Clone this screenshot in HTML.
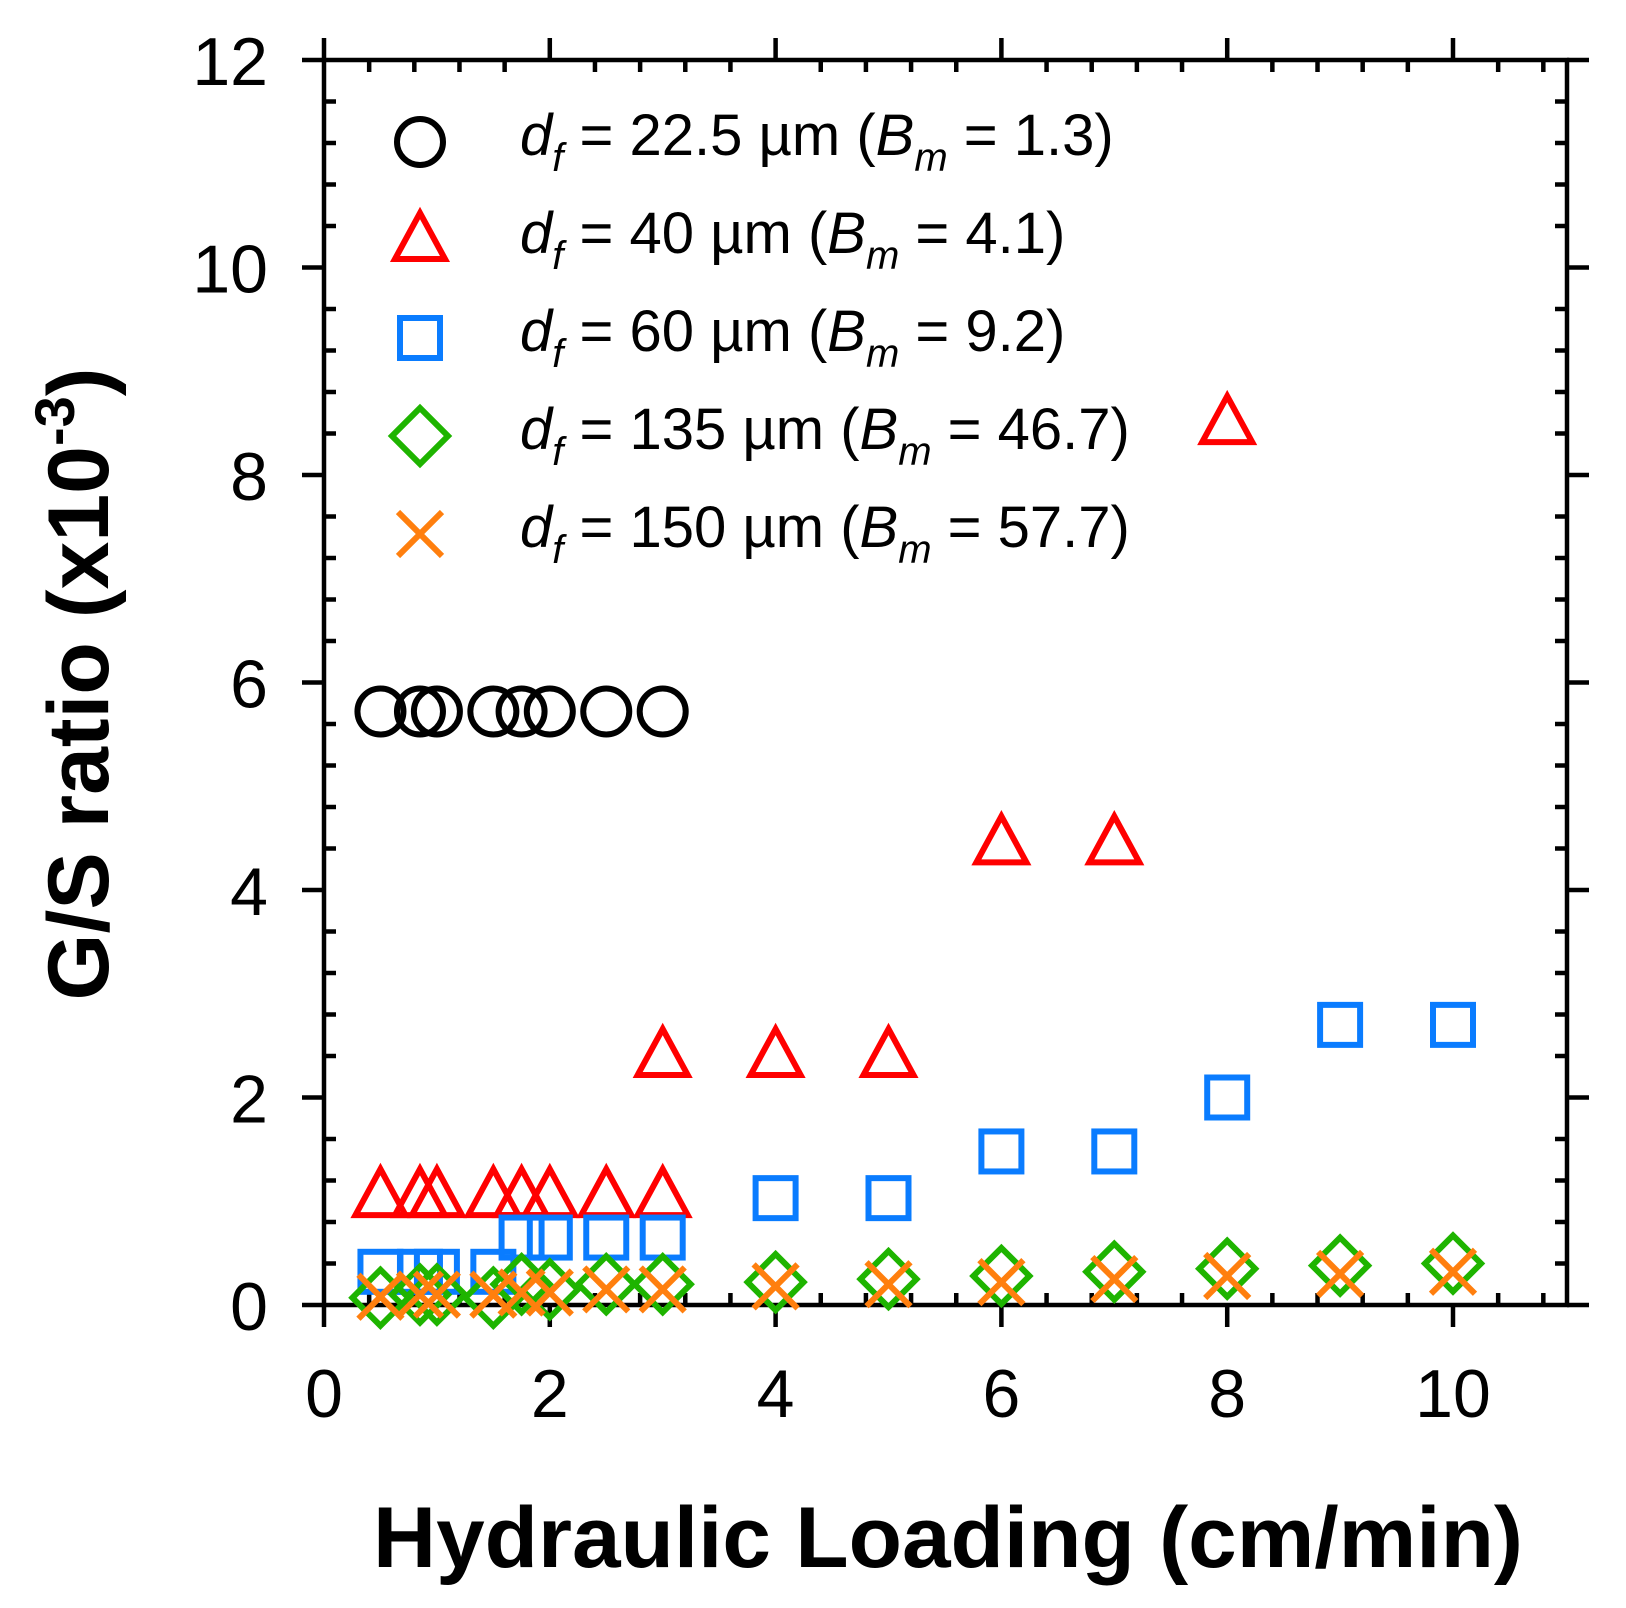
<!DOCTYPE html>
<html><head><meta charset="utf-8"><style>
html,body{margin:0;padding:0;background:#fff;}
svg{display:block;}
text{font-family:"Liberation Sans",Arial,sans-serif;}
</style></head><body>
<svg id="s" width="1626" height="1608" viewBox="0 0 1626 1608" xmlns="http://www.w3.org/2000/svg">
<g id="ax" stroke="#000" stroke-width="4.5" fill="none"></g>
<g id="pts" fill="none" stroke-width="6"></g>
<g id="lab" fill="#000"></g>
<text x="948" y="1567" font-size="86" font-weight="bold" text-anchor="middle" textLength="1150" lengthAdjust="spacingAndGlyphs">Hydraulic Loading (cm/min)</text>
<text transform="translate(108,684) rotate(-90)" font-size="86" font-weight="bold" text-anchor="middle">G/S ratio (x10<tspan font-size="56" dy="-34">-3</tspan><tspan dy="34">)</tspan></text>
</svg>
<script>
const X0=324,XS=112.9,Y0=1305,YS=103.75;
const X=v=>X0+v*XS, Y=v=>Y0-v*YS;
const ax=document.getElementById('ax'),pts=document.getElementById('pts'),lab=document.getElementById('lab');
const NS='http://www.w3.org/2000/svg';
function el(p,t,a,txt){const e=document.createElementNS(NS,t);for(const k in a)e.setAttribute(k,a[k]);if(txt!==undefined)e.textContent=txt;p.appendChild(e);return e;}
const L=X(0),R=1567,T=Y(12),B=Y(0);
el(ax,'rect',{x:L,y:T,width:R-L,height:B-T});
for(let i=0;i<=27;i++){const v=i*0.4;const x=X(v);const maj=(i%5==0);
 if(maj){el(ax,'line',{x1:x,y1:B,x2:x,y2:B+22});el(ax,'line',{x1:x,y1:T,x2:x,y2:T-22});
  el(lab,'text',{x:x,y:B+112,'text-anchor':'middle','font-size':'68'},String(Math.round(v)));}
 else{el(ax,'line',{x1:x,y1:B,x2:x,y2:B-12});el(ax,'line',{x1:x,y1:T,x2:x,y2:T+12});}}
for(let i=0;i<=30;i++){const v=i*0.4;const y=Y(v);const maj=(i%5==0);
 if(maj){el(ax,'line',{x1:L,y1:y,x2:L-22,y2:y});el(ax,'line',{x1:R,y1:y,x2:R+22,y2:y});
  el(lab,'text',{x:268,y:y+25,'text-anchor':'end','font-size':'68'},String(Math.round(v)));}
 else{el(ax,'line',{x1:L,y1:y,x2:L+12,y2:y});el(ax,'line',{x1:R,y1:y,x2:R-12,y2:y});}}
function circ(x,y){el(pts,'circle',{cx:x,cy:y,r:23,stroke:'#000'});}
function tri(x,y){el(pts,'polygon',{points:`${x},${y-27} ${x-25},${y+19} ${x+25},${y+19}`,stroke:'#f00'});}
function sq(x,y){el(pts,'rect',{x:x-20,y:y-20,width:40,height:40,stroke:'#0a7cff'});}
function dia(x,y){el(pts,'polygon',{points:`${x},${y-28} ${x+28},${y} ${x},${y+28} ${x-28},${y}`,stroke:'#1eb400'});}
function cr(x,y){el(pts,'path',{d:`M${x-22},${y-22}L${x+22},${y+22}M${x+22},${y-22}L${x-22},${y+22}`,stroke:'#ff7f0e'});}
const sx=[0.5,0.85,1,1.5,1.75,2,2.5,3];
sx.forEach(v=>circ(X(v),Y(5.72)));
sx.forEach(v=>tri(X(v),Y(1.05)));
[[3,2.4],[4,2.4],[5,2.4],[6,4.45],[7,4.45],[8,8.5]].forEach(p=>tri(X(p[0]),Y(p[1])));
[[0.5,.32],[0.85,.32],[1,.32],[1.5,.32],[1.75,.65],[2,.65],[2.5,.65],[3,.65],[4,1.03],[5,1.03],[6,1.48],[7,1.48],[8,2.0],[9,2.7],[10,2.7]].forEach(p=>sq(X(p[0]),Y(p[1])));
[[0.5,.07],[0.85,.1],[1,.1],[1.5,.07],[1.75,.2],[2,.15],[2.5,.2],[3,.2],[4,.22],[5,.25],[6,.28],[7,.32],[8,.35],[9,.38],[10,.4]].forEach(p=>dia(X(p[0]),Y(p[1])));
[[0.5,.08],[0.85,.1],[1,.1],[1.5,.1],[1.75,.12],[2,.12],[2.5,.15],[3,.15],[4,.18],[5,.2],[6,.22],[7,.25],[8,.28],[9,.3],[10,.32]].forEach(p=>cr(X(p[0]),Y(p[1])));
const ly=[142,240,338,436,534];
circ(420,ly[0]);tri(420,ly[1]);sq(420,ly[2]);dia(420,ly[3]);cr(420,ly[4]);
const lt=[['22.5','1.3'],['40','4.1'],['60','9.2'],['135','46.7'],['150','57.7']];
lt.forEach((t,i)=>{const y=ly[i]+13;
 const g=el(lab,'text',{x:520,y:y,'font-size':'58'});
 el(g,'tspan',{'font-style':'italic'},'d');
 el(g,'tspan',{'font-style':'italic','font-size':'40',dy:'16'},'f');
 el(g,'tspan',{dy:'-16'},' = '+t[0]+' µm (');
 el(g,'tspan',{'font-style':'italic'},'B');
 el(g,'tspan',{'font-style':'italic','font-size':'40',dy:'16'},'m');
 el(g,'tspan',{dy:'-16'},' = '+t[1]+')');
});
</script>
</body></html>
